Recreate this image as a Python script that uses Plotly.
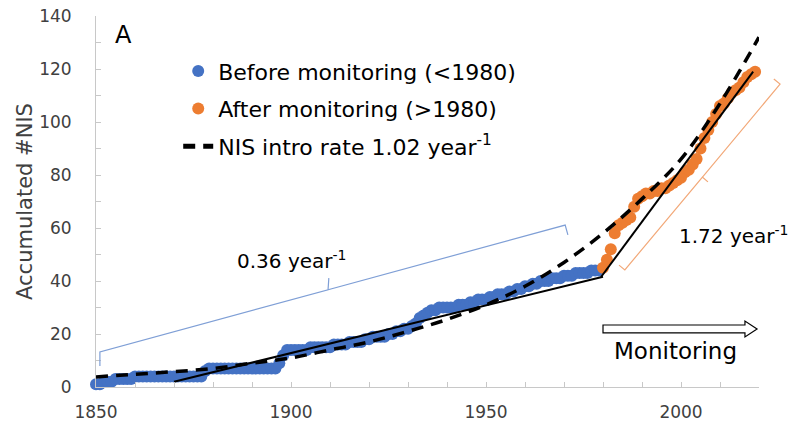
import plotly.graph_objects as go

# ---------------- data ----------------
before_years = list(range(1850, 1980))
before_values = [
    1, 1, 2, 2, 2, 3, 3, 3, 3, 3,                      # 1850-1859
    4, 4, 4, 4, 4, 4, 4, 4, 4, 4,                      # 1860-1869
    4, 4, 4, 4, 4, 4, 4, 4, 6, 7,                      # 1870-1879
    7, 7, 7, 7, 7, 7, 7, 7, 7, 7,                      # 1880-1889
    7, 7, 7, 7, 7, 7, 7, 9, 12, 14,                    # 1890-1899
    14, 14, 14, 14, 14, 15, 15, 15, 15, 15,            # 1900-1909
    15, 16, 16, 16, 16, 17, 17, 17, 17, 18,            # 1910-1919
    18, 19, 19, 19, 19, 20, 20, 21, 21, 22,            # 1920-1929
    22, 23, 24, 26, 27, 28, 29, 29, 30, 30,            # 1930-1939
    30, 30, 30, 31, 31, 31, 32, 32, 33, 33,            # 1940-1949
    33, 34, 34, 35, 35, 35, 36, 36, 37, 37,            # 1950-1959
    38, 38, 39, 39, 40, 40, 40, 41, 41, 41,            # 1960-1969
    42, 42, 42, 43, 43, 43, 43, 44, 44, 44,            # 1970-1979
]

after_years = list(range(1980, 2020))
after_values = [
    45, 48, 52, 58, 61, 62, 63, 64, 68, 71,            # 1980-1989
    72, 73, 73, 74, 74, 75, 75, 76, 77, 78,            # 1990-1999
    79, 81, 82, 84, 86, 90, 94, 97, 100, 103,          # 2000-2009
    106, 107, 109, 111, 112, 113, 115, 117, 118, 119,  # 2010-2019
]

intro_years = [1850, 1860, 1870, 1880, 1890, 1900, 1910, 1920, 1930,
               1940, 1950, 1960, 1970, 1980, 1990, 2000, 2010, 2020]
intro_values = [3.8, 4.8, 5.8, 7, 9, 11, 14, 17, 21,
                25.5, 31, 38, 47, 58, 71, 86, 107, 132]

trend1_years = [1870, 1980]
trend1_values = [2, 41.6]
trend2_years = [1979.5, 2018.5]
trend2_values = [41.5, 119]

x_ticks = [1850, 1900, 1950, 2000]
y_ticks = [0, 20, 40, 60, 80, 100, 120, 140]

X0, X1 = 1850, 2020
Y0, Y1 = 0, 140

FONT = "DejaVu Sans"
BLUE = "#4472C4"
ORANGE = "#ED7D31"
GREY_TXT = "#404040"
AXIS_COL = "#c8c8c8"


def to_paper(x, y):
    return (x - X0) / (X1 - X0), (y - Y0) / (Y1 - Y0)


def path_paper(pts):
    parts = []
    for i, (x, y) in enumerate(pts):
        px, py = to_paper(x, y)
        parts.append(("M" if i == 0 else "L") + f"{px:.5f},{py:.5f}")
    return " ".join(parts)


fig = go.Figure()

fig.add_trace(go.Scatter(
    x=before_years, y=before_values, mode="markers",
    name="Before monitoring (<1980)",
    marker=dict(color=BLUE, size=12),
    cliponaxis=False, legendgroup="a",
))
fig.add_trace(go.Scatter(
    x=after_years, y=after_values, mode="markers",
    name="After monitoring (>1980)",
    marker=dict(color=ORANGE, size=12),
    cliponaxis=False, legendgroup="b",
))
fig.add_trace(go.Scatter(
    x=intro_years, y=intro_values, mode="lines", line_shape="spline",
    name="NIS intro rate 1.02 year<sup>-1</sup>",
    line=dict(color="black", width=3.5, dash="12px,8px"),
    legendgroup="c",
))
fig.add_trace(go.Scatter(
    x=trend1_years, y=trend1_values, mode="lines",
    line=dict(color="black", width=2), showlegend=False,
))
fig.add_trace(go.Scatter(
    x=trend2_years, y=trend2_values, mode="lines",
    line=dict(color="black", width=2), showlegend=False,
))

# brackets (data units, converted to paper so they are never clipped)
blue_bracket = [(1851, 7.9), (1851, 13.2), (1909.5, 36.7), (1909.7, 41.1),
                (1909.5, 36.7), (1970.3, 61.1), (1971, 57.4)]
orange_bracket = [(1984.1, 46.0), (1985.6, 44.2), (2005.5, 79.2), (2006.9, 77.4),
                  (2005.5, 79.2), (2025.4, 114.3), (2023.8, 116.2)]
fig.add_shape(type="path", xref="paper", yref="paper",
              path=path_paper(blue_bracket), line=dict(color="#7f9fd6", width=1.2))
fig.add_shape(type="path", xref="paper", yref="paper",
              path=path_paper(orange_bracket), line=dict(color="#f2a878", width=1.2))

# hollow "Monitoring" arrow
arrow = [(1980, 20.4), (2016.4, 20.4), (2016.4, 18.9), (2019.5, 21.9),
         (2016.4, 24.9), (2016.4, 23.4), (1980, 23.4)]
fig.add_shape(type="path", xref="paper", yref="paper",
              path=path_paper(arrow) + " Z",
              line=dict(color="black", width=1.2), fillcolor="white")

fig.add_annotation(x=1857, y=132.8, text="A", showarrow=False,
                   font=dict(family=FONT, size=24, color="black"))
fig.add_annotation(x=1885.6, y=47.9, xanchor="left", text="0.36 year<sup>-1</sup>",
                   showarrow=False, font=dict(family=FONT, size=20, color="black"))
fig.add_annotation(x=1999, y=57.4, xanchor="left", text="1.72 year<sup>-1</sup>",
                   showarrow=False, font=dict(family=FONT, size=20, color="black"))
fig.add_annotation(x=1998.5, y=13.6, text="Monitoring",
                   showarrow=False, font=dict(family=FONT, size=23, color="black"))

fig.update_layout(
    width=797, height=427,
    margin=dict(l=96, r=38, t=16, b=40),
    paper_bgcolor="white", plot_bgcolor="white",
    font=dict(family=FONT, color=GREY_TXT),
    showlegend=True,
    legend=dict(x=0.124, y=0.908, xanchor="left", yanchor="top",
                font=dict(family=FONT, size=22, color="black"),
                bgcolor="rgba(0,0,0,0)", tracegroupgap=6,
                itemsizing="constant"),
    xaxis=dict(range=[X0, X1], tickvals=x_ticks, ticks="inside", ticklen=5,
               tickcolor=AXIS_COL, showline=True, linecolor=AXIS_COL, linewidth=1,
               showgrid=False, zeroline=False, automargin=False,
               tickfont=dict(family=FONT, size=17, color=GREY_TXT),
               ticklabelstandoff=10,
               minor=dict(dtick=10, tick0=1850, ticks="inside", ticklen=5,
                          tickcolor=AXIS_COL, showgrid=False)),
    yaxis=dict(range=[Y0, Y1], tickvals=y_ticks, ticks="inside", ticklen=5,
               tickcolor=AXIS_COL, showline=True, linecolor=AXIS_COL, linewidth=1,
               showgrid=False, zeroline=False, automargin=False,
               tickfont=dict(family=FONT, size=17, color=GREY_TXT),
               ticklabelstandoff=20,
               title=dict(text="Accumulated #NIS", standoff=0,
                          font=dict(family=FONT, size=21, color=GREY_TXT)),
               minor=dict(dtick=10, tick0=0, ticks="inside", ticklen=5,
                          tickcolor=AXIS_COL, showgrid=False)),
)

fig.write_html("out.html")
